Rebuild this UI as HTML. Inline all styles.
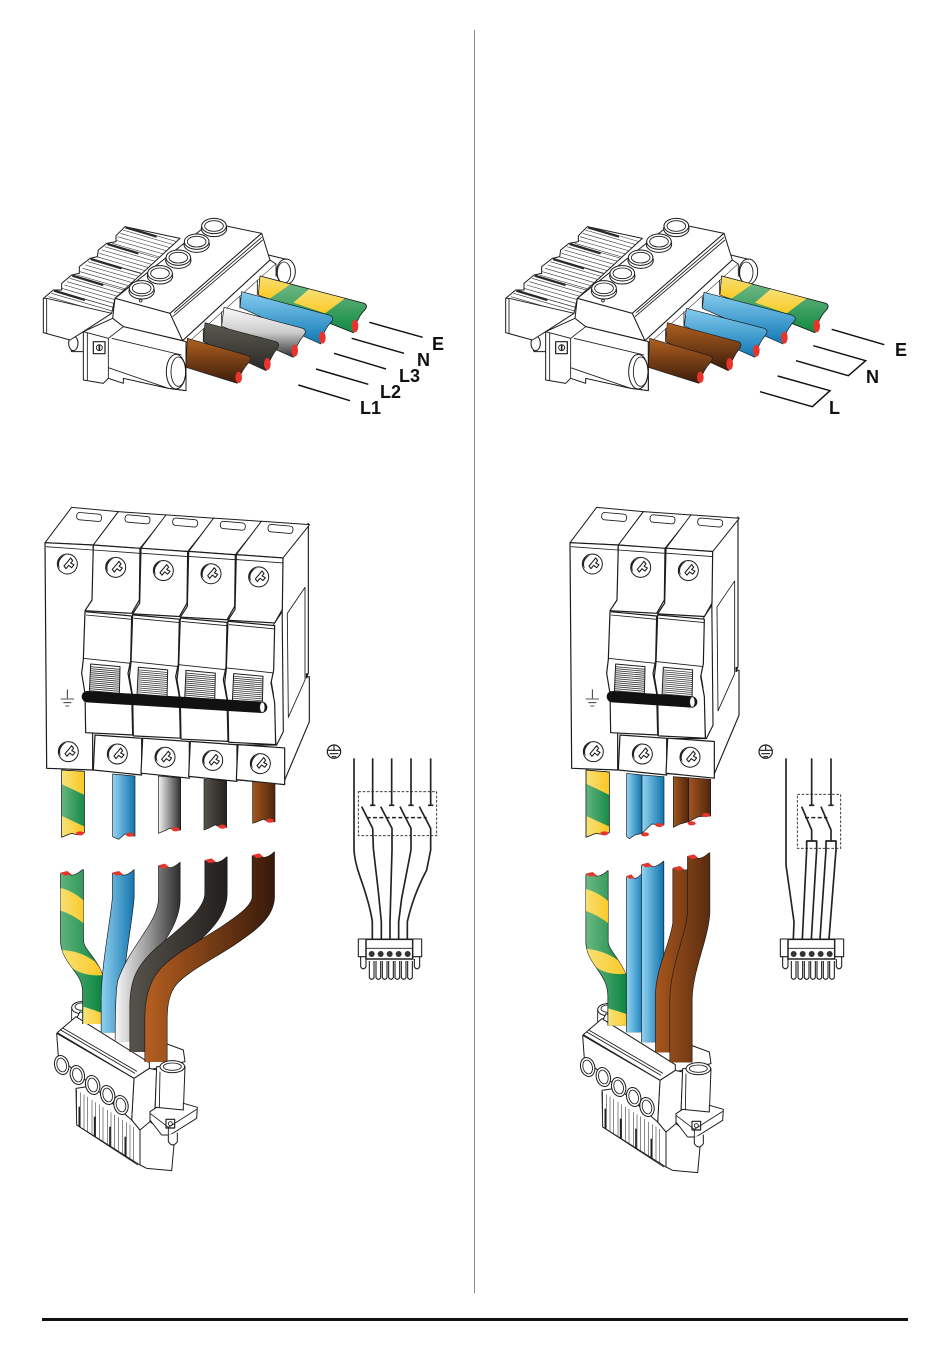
<!DOCTYPE html>
<html><head><meta charset="utf-8"><title>Wiring diagram</title>
<style>
html,body{margin:0;padding:0;background:#fff}
svg{display:block}
text{font-family:"Liberation Sans",sans-serif;font-weight:bold;font-size:18px;fill:#111}
.l{fill:#fff;stroke:#1c1c1c;stroke-width:3;stroke-linejoin:round}
.n{fill:none;stroke:#1c1c1c;stroke-width:2.6;stroke-linejoin:round}
.t{fill:none;stroke:#333;stroke-width:1.7}
.w{stroke:#1a1a1a;stroke-width:2;stroke-linejoin:round}
.s{fill:none;stroke:#222;stroke-width:5;stroke-linejoin:round}
.d{fill:none;stroke:#222;stroke-width:2.6;stroke-dasharray:8 5}
</style></head><body>
<svg width="950" height="1369" viewBox="0 0 950 1369" xmlns="http://www.w3.org/2000/svg">
<defs>
<linearGradient id="vBrown" x1="0" y1="0" x2="0" y2="1"><stop offset="0" stop-color="#b0601f"/><stop offset="1" stop-color="#3b1c0c"/></linearGradient>
<linearGradient id="vBlack" x1="0" y1="0" x2="0" y2="1"><stop offset="0" stop-color="#5c5a50"/><stop offset="1" stop-color="#2a2a28"/></linearGradient>
<linearGradient id="vGray" x1="0" y1="0" x2="0" y2="1"><stop offset="0" stop-color="#fafafa"/><stop offset=".5" stop-color="#ccc"/><stop offset="1" stop-color="#333"/></linearGradient>
<linearGradient id="vBlue" x1="0" y1="0" x2="0" y2="1"><stop offset="0" stop-color="#86cdf0"/><stop offset="1" stop-color="#0f78b4"/></linearGradient>
<linearGradient id="vGreen" x1="0" y1="0" x2="0" y2="1"><stop offset="0" stop-color="#7fbe8e"/><stop offset="1" stop-color="#0f8a42"/></linearGradient>
<linearGradient id="vYel" x1="0" y1="0" x2="0" y2="1"><stop offset="0" stop-color="#f7e07a"/><stop offset="1" stop-color="#fbcb24"/></linearGradient>
<linearGradient id="hBlue" x1="0" y1="0" x2="1" y2="0"><stop offset="0" stop-color="#92d3f2"/><stop offset="1" stop-color="#1173ad"/></linearGradient>
<linearGradient id="hGray" x1="0" y1="0" x2="1" y2="0"><stop offset="0" stop-color="#f4f4f4"/><stop offset="1" stop-color="#2e2e2e"/></linearGradient>
<linearGradient id="hBlack" x1="0" y1="0" x2="1" y2="0"><stop offset="0" stop-color="#55534a"/><stop offset="1" stop-color="#26211f"/></linearGradient>
<linearGradient id="hBrownB" x1="0" y1="0" x2="1" y2="0"><stop offset="0" stop-color="#a4551d"/><stop offset="1" stop-color="#4f260e"/></linearGradient>
<linearGradient id="hGreen" x1="0" y1="0" x2="1" y2="0"><stop offset="0" stop-color="#6cb883"/><stop offset="1" stop-color="#0d8640"/></linearGradient>
<linearGradient id="hYel" x1="0" y1="0" x2="1" y2="0"><stop offset="0" stop-color="#f7e27a"/><stop offset="1" stop-color="#fcc722"/></linearGradient>

<linearGradient id="uGreen" gradientUnits="userSpaceOnUse" x1="62" y1="0" x2="185" y2="0"><stop offset="0" stop-color="#5fb37c"/><stop offset="1" stop-color="#0d8640"/></linearGradient>
<linearGradient id="uBlue" gradientUnits="userSpaceOnUse" x1="185" y1="0" x2="285" y2="0"><stop offset="0" stop-color="#8ed0f0"/><stop offset="1" stop-color="#1173ad"/></linearGradient>
<linearGradient id="uGray" gradientUnits="userSpaceOnUse" x1="228" y1="0" x2="420" y2="0"><stop offset="0" stop-color="#f6f6f6"/><stop offset=".5" stop-color="#9a9a9a"/><stop offset="1" stop-color="#2e2e2e"/></linearGradient>
<linearGradient id="uBlack" gradientUnits="userSpaceOnUse" x1="272" y1="0" x2="560" y2="0"><stop offset="0" stop-color="#55534a"/><stop offset="1" stop-color="#231f1e"/></linearGradient>
<linearGradient id="uBrown" gradientUnits="userSpaceOnUse" x1="315" y1="0" x2="703" y2="0"><stop offset="0" stop-color="#b55f20"/><stop offset="1" stop-color="#38190a"/></linearGradient>
<linearGradient id="rGreen" gradientUnits="userSpaceOnUse" x1="48" y1="0" x2="170" y2="0"><stop offset="0" stop-color="#6cb883"/><stop offset="1" stop-color="#0d8640"/></linearGradient>
<linearGradient id="rB1" gradientUnits="userSpaceOnUse" x1="170" y1="0" x2="216" y2="0"><stop offset="0" stop-color="#92d3f2"/><stop offset="1" stop-color="#1f84bf"/></linearGradient>
<linearGradient id="rB2" gradientUnits="userSpaceOnUse" x1="215" y1="0" x2="281" y2="0"><stop offset="0" stop-color="#92d3f2"/><stop offset="1" stop-color="#1173ad"/></linearGradient>
<linearGradient id="rBr" gradientUnits="userSpaceOnUse" x1="258" y1="0" x2="420" y2="0"><stop offset="0" stop-color="#a8561c"/><stop offset="1" stop-color="#5a2c10"/></linearGradient>

<g id="fin">
<path class="t" d="M0,0L190,55M-6,10L184,65M-14,20L176,75M-22,30L168,85M-30,40L160,95M-38,50L152,105"/>
<path d="M2,2L95,30" stroke="#2a2a2a" stroke-width="7" fill="none"/>
</g>
<g id="knobT"><ellipse cx="0" cy="8" rx="38" ry="24" class="l"/><ellipse cx="0" cy="0" rx="37" ry="23" class="l"/><ellipse cx="0" cy="0" rx="28" ry="16" class="n"/></g>
<clipPath id="finClip"><path d="M40,295L70,270H95V250L125,225L148,220V200L180,175L202,170L205,150L230,130L258,125V107L285,80L450,115L255,295L245,340L50,295Z"/></clipPath>

<g id="conn">
<ellipse cx="768" cy="215" rx="28" ry="38" class="l"/><ellipse cx="762" cy="218" rx="20" ry="32" class="n"/>
<path class="l" d="M715,165L770,178"/>
<path class="l" d="M120,395H165V455H125Q115,425 120,395Z"/>
<ellipse cx="130" cy="430" rx="14" ry="22" class="l"/>
<path class="l" d="M40,295L70,270H95V250L125,225L148,220V200L180,175L202,170L205,150L230,130L258,125V107L285,80L450,115L255,295L245,340L160,395L120,420L40,398Z"/>
<path class="n" d="M50,295V400M40,295H50L245,340"/>
<g clip-path="url(#finClip)">
<use href="#fin" transform="translate(285,80)"/>
<use href="#fin" transform="translate(230,130)"/>
<use href="#fin" transform="translate(180,175)"/>
<use href="#fin" transform="translate(125,225)"/>
<use href="#fin" transform="translate(70,270)"/>
</g>
<path class="l" d="M255,295L540,68L695,100L420,340Z"/>
<path class="l" d="M255,295L420,340L458,422L280,380L248,355Z"/>
<path class="l" d="M420,340L695,100L720,180L458,422Z"/>
<path class="n" d="M432,338L695,112M428,350L698,120"/>
<path class="l" d="M458,422L720,180L738,192L475,428Z"/>
<path d="M475,428L738,192L740,240L690,285L468,572Z" fill="#fff"/>
<path class="n" d="M738,192V230M682,240V285M630,290V325M575,335V380M520,385V425"/>
<use href="#knobT" transform="translate(552,78)"/>
<use href="#knobT" transform="translate(500,125)"/>
<use href="#knobT" transform="translate(445,173)"/>
<use href="#knobT" transform="translate(390,220)"/>
<use href="#knobT" transform="translate(335,265)"/>
<circle cx="332" cy="302" r="4" class="n"/>
<path class="l" d="M160,395L248,355L280,380L468,425V572L415,565L280,535V550L235,535L220,550L160,540Z"/>
<path class="n" d="M160,395L235,415L280,380M235,415V503L415,565M245,415L455,465M235,503V535M172,397V541"/>
<ellipse cx="438" cy="515" rx="29" ry="52" class="l"/><ellipse cx="445" cy="515" rx="22" ry="44" class="n"/>
<path class="n" d="M468,425V572L415,565"/>
<rect x="190" y="425" width="35" height="36" class="n" style="stroke-width:3.6"/>
<circle cx="208" cy="443" r="9" class="n"/><path d="M208,434V452" stroke="#222" stroke-width="5"/>
</g>

<g id="screw"><circle r="30" class="l"/><path d="M10,-28A30,30 0 0 0 -22,14A34,26 0 0 1 10,-28Z" fill="#222"/><path class="n" d="M2,-8L10,-18L16,-10L10,-3L20,2L13,11L4,4L-4,14L-10,6Z" style="stroke-width:3.2"/></g>

<g id="toggle">
<path class="l" d="M0,0L88,8L86,96L-4,88Z"/>
<path d="M0,8L88,16M0,14L88,22M0,20L88,28M0,26L88,34M0,32L88,40M0,38L88,46M0,44L88,52M-2,50L87,58M-2,56L87,64M-2,62L87,70M-2,68L87,76M-2,74L87,82M-2,80L87,88" stroke="#333" stroke-width="2.4"/>
</g>

<g id="pole">
<path class="l" d="M190,135L265,35L410,45L330,145Z"/>
<rect x="285" y="47" width="75" height="22" rx="9" transform="rotate(5 322 58)" class="n"/>
<path class="l" d="M190,135L330,145L328,300L305,340L165,332L186,300Z" style="stroke-width:3.6"/>
<path class="n" d="M190,150L330,160"/>
<path class="l" d="M165,335L305,348L302,482L294,520L305,580L308,705L167,698L165,580L155,520L160,478Z" style="stroke-width:3.6"/>
<path class="n" d="M168,345L305,358M160,475L302,490"/>
<use href="#toggle" transform="translate(182,492)"/>
<use href="#screw" transform="translate(257,202)"/>
<path class="l" d="M195,705L335,715L335,825L190,810Z" style="stroke-width:3.6"/>
<use href="#screw" transform="translate(262,762)"/>
</g>

<g id="earth">
<path class="l" d="M45,128L125,22L265,35L190,135Z"/>
<rect x="140" y="40" width="75" height="22" rx="9" transform="rotate(5 178 50)" class="n"/>
<path class="l" d="M45,128L190,135L188,300V810L50,805Z" style="stroke-width:3.6"/>
<path class="n" d="M48,140L188,150"/>
<use href="#screw" transform="translate(112,192)"/>
<use href="#screw" transform="translate(115,755)"/>
<path class="n" d="M112,568V595M92,597H132M100,608H124M106,618H118"/>
</g>

<g id="side">
<path class="l" d="M755,175L835,70V520L830,530L838,530V665L760,850L620,840V735L740,735L760,695Z" style="stroke-width:3.4"/>
<path class="n" d="M772,340L825,262V540L775,652Z"/>
<path d="M830,520V535" stroke="#111" stroke-width="5"/>
<path class="l" d="M730,375L755,340V175L730,175Z" style="stroke:none"/>
<path class="n" d="M755,175V338L730,375L728,490L720,520L730,580L738,735"/>
</g>

<g id="lknob"><ellipse rx="21" ry="29" class="l" transform="rotate(-15)"/><ellipse rx="14" ry="21" class="n" transform="rotate(-15)"/></g>
<g id="lfin"><path class="t" d="M0,0V105M11,7V112M22,14V119M33,21V126"/><path d="M8,50V110" stroke="#222" stroke-width="5"/><path class="n" d="M0,105L46,135"/></g>
<g id="lconn">
<ellipse cx="125" cy="503" rx="30" ry="18" class="l"/><ellipse cx="125" cy="500" rx="20" ry="11" class="n"/><path class="n" d="M95,503V540"/>
<path class="l" d="M120,515L430,630L435,665L325,690L105,545Z"/>
<path class="l" d="M108,745L110,855L300,975V870L275,720Z"/>
<use href="#lfin" transform="translate(110,750)"/>
<use href="#lfin" transform="translate(156,780)"/>
<use href="#lfin" transform="translate(202,810)"/>
<use href="#lfin" transform="translate(248,840)"/>
<path class="l" d="M282,715L328,685L350,690L345,810L330,820V850L300,870L275,840Z"/>
<path class="l" d="M300,870V975L320,985L395,992L402,915L385,885L330,845Z"/>
<path class="l" d="M52,578L108,530L328,668V685L282,715Z"/>
<path class="n" d="M62,570L285,700M68,564L291,694"/>
<path class="l" d="M50,580L282,715L275,840L55,650Z"/>
<use href="#lknob" transform="translate(65,675)"/>
<use href="#lknob" transform="translate(112,705)"/>
<use href="#lknob" transform="translate(158,735)"/>
<use href="#lknob" transform="translate(203,765)"/>
<use href="#lknob" transform="translate(243,795)"/>
</g>
<g id="lfront">
<path class="l" d="M350,680L345,815H430L435,680Z"/>
<ellipse cx="397" cy="680" rx="37" ry="18" class="l"/><ellipse cx="397" cy="680" rx="27" ry="11" class="n"/>
<path class="n" d="M360,695L358,805"/>
<path class="l" d="M330,815L350,802L430,810V790L472,802L470,835L390,885H365L330,840Z"/>
<path class="n" d="M330,820L385,862L470,808M385,862V885"/>
<rect x="378" y="838" width="26" height="26" class="n" style="stroke-width:3.4"/><circle cx="391" cy="851" r="6" class="n"/>
<path class="l" d="M385,885V905Q398,925 412,905V878"/>
</g>

<g id="cap">
<path d="M-8,-22H74V-12H66Q42,10 28,4Q14,-2 0,0H-8Z" fill="#fff"/>
<path d="M0,0Q14,-2 28,4Q42,10 66,-12" fill="none" stroke="#1a1a1a" stroke-width="2"/>
<path d="M-1,-2L20,-7L33,4L12,7Z" fill="#e8342a"/>
</g>

<path id="wG" d="M96,85V300C96,355 158,375 162,450V552"/>
<path id="wB" d="M250,85L250,170C245,240 218,370 216,470V578"/>
<path id="wY" d="M388,62V175C388,260 300,330 265,430Q258,460 258,604"/>
<path id="wK" d="M528,46V160C528,230 440,290 370,350C320,395 303,430 303,500V636"/>
<path id="wR" d="M670,30V170C670,215 620,250 560,290C490,335 420,370 385,410C355,445 348,490 348,540V666"/>
<mask id="mG" maskUnits="userSpaceOnUse" x="0" y="0" width="300" height="700"><use href="#wG" fill="none" stroke="#fff" stroke-width="68"/></mask>

<path id="rG" d="M81,70V290C81,340 145,370 147,450V542"/>
<path id="rB" d="M193,78V562"/>
<path id="rC" d="M248,42V592"/>
<path id="rD" d="M342,50V235C335,300 290,380 290,450V622"/>
<path id="rE" d="M386,16V205C380,280 335,370 333,460V652"/>
<mask id="mG2" maskUnits="userSpaceOnUse" x="0" y="0" width="300" height="700"><use href="#rG" fill="none" stroke="#fff" stroke-width="66"/></mask>

<g id="sconn">
<rect x="115" y="612" width="190" height="53" class="n" style="stroke-width:3.2"/>
<path d="M138,613H278V672H138Z" fill="#fff" stroke="#222" stroke-width="4.5"/>
<path class="n" d="M138,640H278"/>
<g fill="#333"><circle cx="155" cy="657" r="9"/><circle cx="182" cy="657" r="9"/><circle cx="209" cy="657" r="9"/><circle cx="236" cy="657" r="9"/><circle cx="263" cy="657" r="9"/></g>
<path class="n" style="stroke-width:3.2" d="M148,678V728Q155,738 162,728V678M168,678V728Q175,738 182,728V678M187,678V728Q194,738 201,728V678M206,678V728Q213,738 220,728V678M225,678V728Q232,738 239,728V678M244,678V728Q251,738 258,728V678M263,678V728Q270,738 277,728V678M122,665V695Q130,708 138,695V672M283,672V695Q291,708 299,695V665"/>
</g>
</defs>

<rect width="950" height="1369" fill="#fff"/>
<rect x="474" y="30" width="1" height="1263" fill="#8a8a8a"/>
<rect x="42" y="1318" width="866" height="3" fill="#111"/>

<!-- TOP LEFT -->
<g transform="translate(30,200) scale(.33333)">
<use href="#conn"/>
<clipPath id="ce"><path d="M690,228L1003,310Q1014,316 1006,328Q982,350 970,398L685,285Z"/></clipPath>
<path d="M690,228L1003,310Q1014,316 1006,328Q982,350 970,398L685,285Z" fill="url(#vGreen)" class="w"/>
<g clip-path="url(#ce)"><path d="M685,225L785,250L720,295L680,285Z" fill="url(#vYel)"/><path d="M840,265L945,295L885,340L790,308Z" fill="url(#vYel)"/></g>
<path d="M690,228L1003,310Q1014,316 1006,328Q982,350 970,398L685,285Z" fill="none" class="w"/>
<ellipse cx="975" cy="378" rx="10" ry="19" fill="#e8342a"/>
<path d="M635,275L897,345Q914,352 905,365Q880,390 872,432L630,322Z" fill="url(#vBlue)" class="w"/>
<ellipse cx="877" cy="413" rx="10" ry="18" fill="#e8342a"/>
<path d="M582,322L818,385Q832,392 822,405Q800,430 790,472L575,378Z" fill="url(#vGray)" class="w"/>
<ellipse cx="794" cy="452" rx="10" ry="18" fill="#e8342a"/>
<path d="M525,368L738,425Q752,432 742,445Q722,470 708,512L520,425Z" fill="url(#vBlack)" class="w"/>
<ellipse cx="712" cy="492" rx="10" ry="18" fill="#e8342a"/>
<path d="M472,415L655,467Q668,474 657,487Q635,510 622,550L468,502Z" fill="url(#vBrown)" class="w"/>
<ellipse cx="626" cy="532" rx="10" ry="17" fill="#e8342a"/>
<path d="M805,555L960,602M858,507L1015,553M912,460L1068,507M965,415L1122,460M1018,367L1178,412" stroke="#111" stroke-width="4.4" fill="none"/>
</g>
<text x="432" y="350">E</text>
<text x="417" y="366">N</text>
<text x="399" y="382">L3</text>
<text x="380" y="398">L2</text>
<text x="360" y="414">L1</text>

<!-- TOP RIGHT -->
<g transform="translate(495,200) scale(.33333)">
<use href="#conn" x="-8"/>
<clipPath id="ce2"><path d="M680,228L993,310Q1004,316 996,328Q972,350 960,398L675,285Z"/></clipPath>
<path d="M680,228L993,310Q1004,316 996,328Q972,350 960,398L675,285Z" fill="url(#vGreen)" class="w"/>
<g clip-path="url(#ce2)"><path d="M675,225L775,250L710,295L670,285Z" fill="url(#vYel)"/><path d="M830,265L935,295L875,340L780,308Z" fill="url(#vYel)"/></g>
<path d="M680,228L993,310Q1004,316 996,328Q972,350 960,398L675,285Z" fill="none" class="w"/>
<ellipse cx="965" cy="378" rx="10" ry="19" fill="#e8342a"/>
<path d="M627,277L890,345Q907,352 897,365Q872,390 864,432L622,325Z" fill="url(#vBlue)" class="w"/>
<ellipse cx="868" cy="413" rx="10" ry="18" fill="#e8342a"/>
<path d="M574,325L808,385Q822,392 812,405Q790,430 780,472L568,378Z" fill="url(#vBlue)" class="w"/>
<ellipse cx="784" cy="452" rx="10" ry="18" fill="#e8342a"/>
<path d="M517,368L730,425Q744,432 734,445Q714,470 700,512L512,425Z" fill="url(#vBrown)" class="w"/>
<ellipse cx="704" cy="492" rx="10" ry="18" fill="#e8342a"/>
<path d="M464,415L645,467Q658,474 647,487Q625,510 612,550L460,502Z" fill="url(#vBrown)" class="w"/>
<ellipse cx="616" cy="532" rx="10" ry="17" fill="#e8342a"/>
<path d="M1010,388L1168,434M955,437L1112,482L1060,527L903,482M848,528L1005,572L952,620L795,575" stroke="#111" stroke-width="4.4" fill="none" stroke-linejoin="miter"/>
</g>
<text x="895" y="356">E</text>
<text x="866" y="383">N</text>
<text x="829" y="414">L</text>

<!-- BREAKER LEFT -->
<g transform="translate(30,500) scale(.33333)">
<use href="#side"/>
<use href="#earth"/>
<use href="#pole"/>
<use href="#pole" transform="translate(143,9.6)"/>
<use href="#pole" transform="translate(286,19.2)"/>
<use href="#pole" transform="translate(429,28.8)"/>
<path d="M172,590L695,622" stroke="#111" stroke-width="34" stroke-linecap="round" fill="none"/>
<ellipse cx="697" cy="622" rx="8" ry="16" fill="#fff" stroke="#222" stroke-width="2.4"/>
<clipPath id="cs"><path d="M95,810L163,814V998Q145,1008 125,1000Q110,1005 95,1012Z"/></clipPath>
<path d="M95,810L163,814V998Q145,1008 125,1000Q110,1005 95,1012Z" fill="url(#hYel)" class="w"/>
<path clip-path="url(#cs)" d="M90,850L170,888V983L90,945Z" fill="url(#hGreen)"/>
<path d="M95,810L163,814V998Q145,1008 125,1000Q110,1005 95,1012Z" fill="none" class="w"/>
<ellipse cx="150" cy="1000" rx="12" ry="6" fill="#e8342a"/>
<path d="M248,822L315,828V1008Q300,1008 285,1002L266,1018L248,1010Z" fill="url(#hBlue)" class="w"/>
<ellipse cx="300" cy="1004" rx="12" ry="6" fill="#e8342a"/>
<path d="M385,828L452,834V990Q435,992 420,985L400,994L385,1000Z" fill="url(#hGray)" class="w"/>
<ellipse cx="437" cy="988" rx="12" ry="6" fill="#e8342a"/>
<path d="M522,838L590,842V982Q575,984 555,975L535,985L522,990Z" fill="url(#hBlack)" class="w"/>
<ellipse cx="577" cy="980" rx="12" ry="6" fill="#e8342a"/>
<path d="M668,845L735,850V965Q720,967 700,958L680,966L668,970Z" fill="url(#hBrownB)" class="w"/>
<ellipse cx="720" cy="962" rx="12" ry="6" fill="#e8342a"/>
</g>

<!-- BREAKER RIGHT -->
<g transform="translate(555,500) scale(.33333)">
<use href="#side" transform="translate(-286,-19.2)"/>
<use href="#earth"/>
<use href="#pole"/>
<use href="#pole" transform="translate(143,9.6)"/>
<path d="M172,590L410,606" stroke="#111" stroke-width="34" stroke-linecap="round" fill="none"/>
<ellipse cx="412" cy="606" rx="8" ry="16" fill="#fff" stroke="#222" stroke-width="2.4"/>
</g>
<g transform="translate(560,500) scale(.33333)">
<clipPath id="cs2"><path d="M78,810L148,816V998Q130,1006 108,1000L78,1012Z"/></clipPath>
<path d="M78,810L148,816V998Q130,1006 108,1000L78,1012Z" fill="url(#hYel)" class="w"/>
<path clip-path="url(#cs2)" d="M72,848L155,888V983L72,945Z" fill="url(#hGreen)"/>
<path d="M78,810L148,816V998Q130,1006 108,1000L78,1012Z" fill="none" class="w"/>
<ellipse cx="133" cy="1000" rx="12" ry="6" fill="#e8342a"/>
<path d="M200,820L246,825V1000L225,1005L208,1016L200,1010Z" fill="url(#hBlue)" class="w"/>
<ellipse cx="255" cy="1003" rx="12" ry="6" fill="#e8342a"/>
<path d="M246,825L312,830V975L275,972L246,1000Z" fill="url(#hBlue)" class="w"/>
<ellipse cx="298" cy="975" rx="12" ry="6" fill="#e8342a"/>
<path d="M340,830L386,833V965L360,972L340,982Z" fill="url(#hBrownB)" class="w"/>
<ellipse cx="395" cy="970" rx="12" ry="6" fill="#e8342a"/>
<path d="M386,833L452,838V948L415,950L386,965Z" fill="url(#hBrownB)" class="w"/>
<ellipse cx="438" cy="945" rx="12" ry="6" fill="#e8342a"/>
</g>

<!-- LOWER LEFT BUNDLE -->
<g transform="translate(40,840) scale(.33333)">
<use href="#lconn"/>
<use href="#wG" fill="none" stroke="#1a1a1a" stroke-width="71"/>
<use href="#wG" fill="none" stroke="url(#uGreen)" stroke-width="67"/>
<g mask="url(#mG)" fill="url(#hYel)">
<path d="M55,143Q100,150 140,190V258Q100,222 55,210Z"/>
<path d="M55,330Q120,330 165,365L195,405Q125,412 85,375Z"/>
<path d="M130,500Q165,510 200,525V560H130Z"/>
</g>
<use href="#cap" transform="translate(62,100)"/>
<use href="#wB" fill="none" stroke="#1a1a1a" stroke-width="67"/>
<use href="#wB" fill="none" stroke="url(#uBlue)" stroke-width="63"/>
<use href="#cap" transform="translate(217,100)"/>
<use href="#wY" fill="none" stroke="#1a1a1a" stroke-width="67"/>
<use href="#wY" fill="none" stroke="url(#uGray)" stroke-width="63"/>
<use href="#cap" transform="translate(355,78)"/>
<use href="#wK" fill="none" stroke="#1a1a1a" stroke-width="69"/>
<use href="#wK" fill="none" stroke="url(#uBlack)" stroke-width="65"/>
<use href="#cap" transform="translate(495,62)"/>
<use href="#wR" fill="none" stroke="#1a1a1a" stroke-width="69"/>
<use href="#wR" fill="none" stroke="url(#uBrown)" stroke-width="65"/>
<use href="#cap" transform="translate(638,47)"/>
<use href="#lfront"/>
</g>

<!-- LOWER RIGHT BUNDLE -->
<g transform="translate(566,842) scale(.33333)"><use href="#lconn"/></g>
<g transform="translate(570,845) scale(.33333)">
<use href="#rG" fill="none" stroke="#1a1a1a" stroke-width="69"/>
<use href="#rG" fill="none" stroke="url(#rGreen)" stroke-width="65"/>
<g mask="url(#mG2)" fill="url(#hYel)">
<path d="M40,130Q85,140 122,175V240Q85,210 40,195Z"/>
<path d="M40,310Q105,315 150,350L178,385Q110,395 70,360Z"/>
<path d="M115,490Q150,500 185,512V548H115Z"/>
</g>
<use href="#cap" transform="translate(48,88)"/>
<use href="#rB" fill="none" stroke="#1a1a1a" stroke-width="49"/>
<use href="#rB" fill="none" stroke="url(#rB1)" stroke-width="45"/>
<use href="#cap" transform="translate(170,95) scale(.72,1)"/>
<use href="#rC" fill="none" stroke="#1a1a1a" stroke-width="69"/>
<use href="#rC" fill="none" stroke="url(#rB2)" stroke-width="65"/>
<use href="#cap" transform="translate(215,60)"/>
<use href="#rD" fill="none" stroke="#1a1a1a" stroke-width="69"/>
<use href="#rD" fill="none" stroke="url(#rBr)" stroke-width="65"/>
<use href="#cap" transform="translate(310,70)"/>
<use href="#rE" fill="none" stroke="#1a1a1a" stroke-width="69"/>
<use href="#rE" fill="none" stroke="url(#rBr)" stroke-width="65"/>
<use href="#cap" transform="translate(352,35)"/>
</g>
<g transform="translate(566,842) scale(.33333)"><use href="#lfront"/></g>

<!-- SCHEMATIC LEFT -->
<g transform="translate(320,735) scale(.33333)">
<circle cx="42" cy="50" r="20" class="n" style="stroke-width:3.6"/>
<path class="n" d="M42,30V45M23,46H61M29,56H55M35,65H49" style="stroke-width:3.4"/>
<rect x="115" y="170" width="235" height="132" class="d"/>
<path d="M140,248H320" fill="none" stroke="#222" stroke-width="4.6" stroke-dasharray="12 7"/>
<path class="s" d="M102,70V345Q104,380 120,425Q150,510 157,560V612"/>
<path class="s" d="M158,70V210M150,211H166M215,70V210M207,211H223M273,70V210M265,211H281M332,70V210M324,211H340"/>
<path class="s" d="M125,215L158,280L160,340L175,470L184,560V612"/>
<path class="s" d="M182,215L216,280V345L210,560V612"/>
<path class="s" d="M240,215L273,280V345L245,490L236,560V612"/>
<path class="s" d="M298,215L332,280V345L320,405Q280,480 262,560V612"/>
<use href="#sconn"/>
</g>

<!-- SCHEMATIC RIGHT -->
<g transform="translate(750,735) scale(.33333)">
<circle cx="47" cy="50" r="20" class="n" style="stroke-width:3.6"/>
<path class="n" d="M47,30V45M28,46H66M34,56H60M40,65H54" style="stroke-width:3.4"/>
<rect x="142" y="178" width="130" height="162" class="d"/>
<path d="M165,248H232" fill="none" stroke="#222" stroke-width="4.6" stroke-dasharray="12 7"/>
<path class="s" d="M108,70V390L132,560L130,612"/>
<path class="s" d="M185,70V210M177,211H193M243,70V210M235,211H251"/>
<path class="s" d="M155,215L185,285V318M213,215L243,285V318"/>
<path class="s" d="M157,612L170,345V318H200V345L184,612M210,612L228,345V318H258V345L237,612"/>
<use href="#sconn" transform="translate(-24,0)"/>
</g>
</svg>
</body></html>
